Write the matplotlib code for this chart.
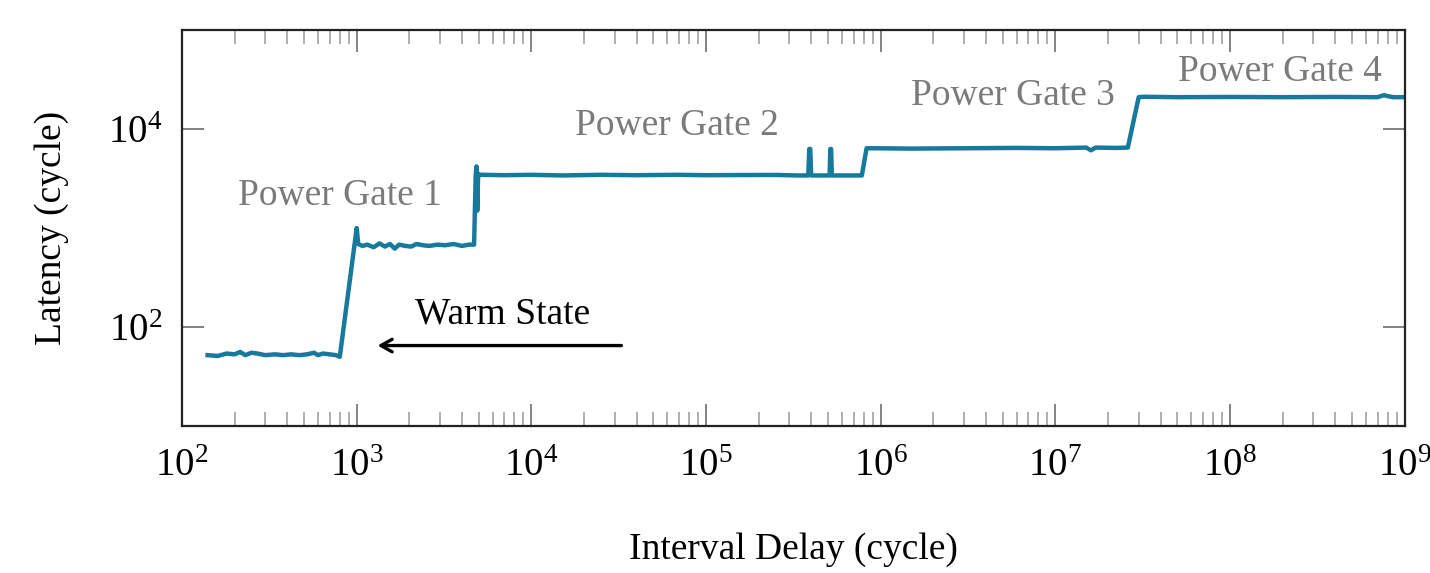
import matplotlib.pyplot as plt
from matplotlib.ticker import FixedLocator, NullLocator

plt.rcParams['font.family'] = ['Liberation Serif', 'DejaVu Serif']
plt.rcParams['mathtext.fontset'] = 'stix'

# interval delay (cycles) and measured latency (cycles)
delay = [140, 160, 180, 200, 215, 230, 250, 270, 300, 340, 380, 420, 470,
         520, 570, 600, 640, 700, 760, 800,
         1000, 1020, 1080, 1150, 1250, 1350, 1450, 1550, 1650, 1750, 1900,
         2050, 2200, 2400, 2600, 2900, 3200, 3600, 4000, 4400, 4700,
         4800, 4850, 4900, 4950, 5000, 5100, 5300,
         7e3, 1e4, 1.5e4, 2.5e4, 4e4, 7e4, 1e5, 1.5e5, 2.5e5, 3.3e5,
         3.85e5, 3.9e5, 3.95e5, 4e5, 4.4e5,
         5.1e5, 5.15e5, 5.2e5, 5.25e5, 6e5, 7.8e5,
         8.3e5, 9e5, 1.5e6, 3e6, 6e6, 1e7, 1.5e7, 1.6e7, 1.7e7, 2.2e7, 2.6e7,
         3e7, 3.2e7, 5e7, 1e8, 2e8, 4e8, 7e8, 7.6e8, 8e8, 8.6e8, 1e9]
latency = [52, 51, 54, 53, 56, 52, 55, 54, 52, 53, 52, 53, 52,
           53, 55, 52, 54, 53, 52, 50,
           1000, 690, 660, 680, 640, 700, 650, 690, 620, 680, 660,
           650, 690, 670, 660, 680, 670, 690, 660, 680, 680,
           3400, 4200, 1500, 3200, 3500, 3450, 3450,
           3420, 3450, 3400, 3450, 3420, 3450, 3420, 3430, 3440, 3400,
           3400, 6300, 6300, 3400, 3400,
           3400, 6300, 6300, 3400, 3400, 3400,
           6400, 6400, 6350, 6400, 6450, 6400, 6500, 6100, 6500, 6450, 6500,
           21000, 21200, 21000, 21100, 21000, 21100, 21000, 22000, 21500, 21000, 21000]

# phase annotations: (text, delay, latency)
labels = ['Power Gate 1', 'Power Gate 2', 'Power Gate 3', 'Power Gate 4']
label_x = [8.0e2, 6.8e4, 5.7e6, 1.93e8]
label_y = [2.1e3, 1.07e4, 2.15e4, 3.8e4]

x_ticks = [1e2, 1e3, 1e4, 1e5, 1e6, 1e7, 1e8, 1e9]
y_ticks = [1e2, 1e4]

fig = plt.figure(figsize=(14.3, 5.73), dpi=100)
ax = fig.add_axes([0.1273, 0.2565, 0.855, 0.691])

ax.plot(delay, latency, color='#17799b', linewidth=3.2, solid_joinstyle='round')

ax.set_xscale('log')
ax.set_yscale('log')
ax.set_xlim(1e2, 1e9)
ax.set_ylim(1e1, 1e5)

ax.xaxis.set_major_locator(FixedLocator(x_ticks))
minor = [m * d for d in x_ticks[:-1] for m in range(2, 10)]
ax.xaxis.set_minor_locator(FixedLocator(minor))
ax.yaxis.set_major_locator(FixedLocator(y_ticks))
ax.yaxis.set_minor_locator(NullLocator())

ax.tick_params(axis='both', which='both', direction='in', top=True, right=True,
               labelsize=28)
ax.tick_params(axis='x', which='major', length=16, width=1.3, color='#777777', pad=16)
ax.tick_params(axis='x', which='minor', length=10, width=1.1, color='#999999')
ax.tick_params(axis='y', which='major', length=16, width=1.3, color='#777777', pad=14)

for s in ax.spines.values():
    s.set_linewidth(1.6)
    s.set_color('#222222')

for t, x, y in zip(labels, label_x, label_y):
    ax.text(x, y, t, fontsize=27, color='#7a7a7a', ha='center', va='center')

ax.text(6.8e3, 135, 'Warm State', fontsize=27, color='black', ha='center', va='center')
ax.annotate('', xy=(1.27e3, 65), xytext=(3.4e4, 65),
            arrowprops=dict(arrowstyle='->,head_length=0.8,head_width=0.45',
                            color='black', lw=2.4))

ax.set_xlabel('Interval Delay (cycle)', fontsize=27, labelpad=34)
ax.set_ylabel('Latency (cycle)', fontsize=27, labelpad=28)

fig.savefig('out.png', dpi=100)
